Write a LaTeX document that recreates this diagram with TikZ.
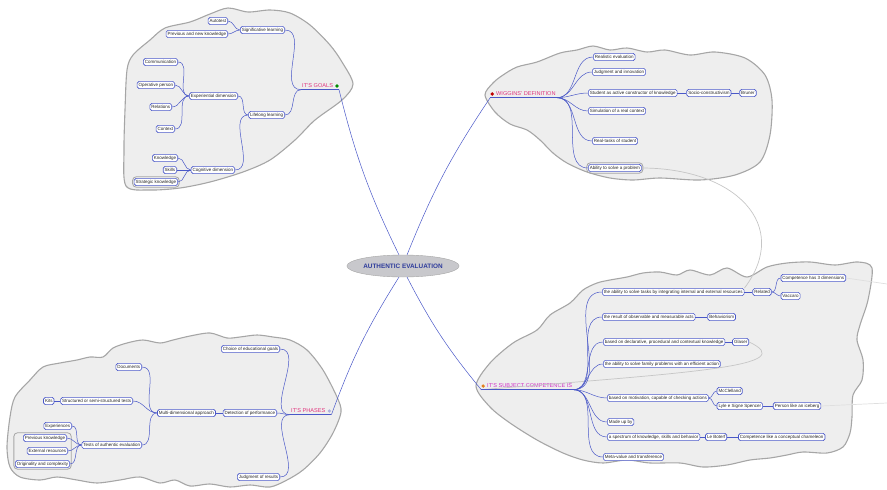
\documentclass[tikz,border=0pt]{standalone}
\usepackage{fontspec}
\setmainfont{Liberation Sans}
\usetikzlibrary{positioning, fit, shapes.geometric}

\definecolor{mmblue}{HTML}{4A58C8}
\definecolor{topicpink}{HTML}{E0327C}
\definecolor{compmag}{HTML}{D02EC4}
\definecolor{cloudfill}{HTML}{EEEEEE}
\definecolor{cloudline}{HTML}{A6A6A6}
\definecolor{centerfill}{HTML}{C8C8CC}
\definecolor{centertext}{HTML}{2E3C9C}

\begin{document}
\begin{tikzpicture}[x=1pt, y=-1pt,
  idea/.style={draw=mmblue, fill=white, rounded corners=1.8pt, line width=0.65pt,
    font=\fontsize{4.5}{5}\selectfont, text=black!85, inner xsep=1.5pt, inner ysep=1.5pt,
    text height=3.3pt, text depth=1pt},
  topic/.style={font=\fontsize{5.6}{6}\selectfont, text=topicpink, inner xsep=1pt, inner ysep=1.5pt},
  icon/.style={circle, inner sep=0pt, minimum size=3.6pt},
  link/.style={draw=mmblue, line width=0.5pt},
  cloudy/.style={draw=cloudline, fill=cloudfill, line width=1.1pt},
  grp/.style={draw=cloudline, rounded corners=3.5pt, line width=0.8pt, inner sep=1.2pt},
  relline/.style={draw=gray!45, line width=0.7pt},
  fadeline/.style={draw=gray!25, line width=0.7pt}]

  \useasboundingbox (0,0) rectangle (887,490);

  % clouds behind the four branches
  \draw[cloudy] plot[smooth cycle] coordinates {(126,186) (124,150) (125,110) (127,70)
    (133,55) (150,40) (165,28) (190,22) (210,14) (228,8) (248,12) (270,10) (290,13)
    (310,25) (330,45) (342,62) (353,84) (342,100) (315,120) (295,140) (270,160)
    (243,172) (210,182) (180,188) (150,190)};
  \draw[cloudy] plot[smooth cycle] coordinates {(485,95) (493,83) (503,75) (517,67)
    (537,62) (560,53) (577,50) (593,46) (610,50) (627,48) (647,52) (665,50) (690,55)
    (715,52) (745,58) (765,75) (772,100) (770,135) (760,162) (735,175) (700,180)
    (660,178) (633,180) (610,178) (587,172) (567,163) (553,153) (540,140) (527,130)
    (510,124) (495,112)};
  \draw[cloudy] plot[smooth cycle] coordinates {(476,386) (490,363) (513,343) (537,330)
    (550,315) (570,303) (583,290) (597,283) (610,280) (627,277) (643,273) (660,272)
    (677,275) (690,270) (710,275) (727,268) (747,277) (767,267) (787,263) (810,262)
    (835,265) (858,262) (872,268) (868,300) (860,325) (857,340) (863,360) (862,380)
    (853,395) (852,417) (850,433) (843,447) (827,453) (803,452) (787,455) (770,458)
    (750,460) (727,465) (703,467) (680,463) (650,463) (627,460) (603,463) (583,460)
    (563,453) (537,440) (510,423) (490,407)};
  \draw[cloudy] plot[smooth cycle] coordinates {(10,417) (15,397) (30,380) (43,367)
    (60,363) (77,360) (90,357) (103,357) (113,348) (127,343) (143,340) (160,343)
    (173,340) (190,336) (210,333) (227,338) (240,337) (257,335) (273,337) (290,340)
    (307,350) (323,370) (337,397) (341,412) (333,433) (320,453) (303,470) (287,480)
    (270,487) (250,485) (230,487) (210,484) (190,486) (175,480) (160,483) (140,477)
    (120,480) (97,483) (77,480) (57,477) (40,480) (20,477) (10,467) (7,447)};

  % centre
  \node[ellipse, draw=gray!70, fill=centerfill, minimum width=102pt, minimum height=22pt,
    font=\bfseries\fontsize{6.4}{7}\selectfont, text=centertext, inner sep=0pt]
    (auth) at (403,266) {AUTHENTIC EVALUATION};

  % IT'S GOALS
  \node[topic, anchor=west] (goals) at (301,86) {IT'S GOALS};
  \node[icon, fill=green!55!black, right=0.8pt of goals] (goalsicon) {};
  \coordinate (goalsend) at (goals.south west -| goalsicon.east);
  \node[idea, anchor=east] (signif) at (285,30) {Significative learning};
  \node[idea, anchor=east] (autotest) at (228,21) {Autotest};
  \node[idea, anchor=east] (prevnew) at (228,34) {Previous and new knowledge};
  \node[idea, anchor=east] (lifelong) at (285,115) {Lifelong learning};
  \node[idea, anchor=east] (exper) at (238,96) {Experiential dimension};
  \node[idea, anchor=east] (commun) at (178,62) {Communication};
  \node[idea, anchor=east] (operat) at (175,85) {Operative person};
  \node[idea, anchor=east] (relat) at (172,107) {Relations};
  \node[idea, anchor=east] (context) at (175,129) {Context};
  \node[idea, anchor=east] (cognit) at (235,170) {Cognitive dimension};
  \node[idea, anchor=east] (knowl) at (178,158) {Knowledge};
  \node[idea, anchor=east] (skills) at (177,170) {Skills};
  \node[idea, anchor=east] (strat) at (178,182) {Strategic knowledge};
  \node[grp, fit=(strat)] (stratgrp) {};

  % WIGGINS' DEFINITION
  \node[topic, anchor=west] (wiggins) at (495,94) {WIGGINS' DEFINITION};
  \node[icon, fill=red!75!black, left=0.8pt of wiggins] (wigicon) {};
  \coordinate (wigstart) at (wiggins.south east -| wigicon.west);
  \node[idea, anchor=west] (realistic) at (593,57) {Realistic evaluation};
  \node[idea, anchor=west] (judgment) at (592,72) {Judgment and innovation};
  \node[idea, anchor=west] (student) at (588,93) {Student as active constructor of knowledge};
  \node[idea, right=9pt of student] (socio) {Socio-constructivism};
  \node[idea, right=8pt of socio] (bruner) {Bruner};
  \node[idea, anchor=west] (simul) at (588,111) {Simulation of a real context};
  \node[idea, anchor=west] (realtask) at (592,141) {Real-tasks of student};
  \node[idea, anchor=west] (ability) at (588,168) {Ability to solve a problem};
  \node[grp, fit=(ability)] (abilitygrp) {};

  % IT'S PHASES
  \node[topic, anchor=west] (phases) at (290,411) {IT'S PHASES};
  \node[icon, fill=gray!60!blue!45, right=0.8pt of phases] (phicon) {};
  \coordinate (phend) at (phases.south west -| phicon.east);
  \node[idea, anchor=east] (choice) at (280,349) {Choice of educational goals};
  \node[idea, anchor=east] (detect) at (277,413) {Detection of performance};
  \node[idea, anchor=east] (judgres) at (280,477) {Judgment of results};
  \node[idea, left=7pt of detect] (multi) {Multi-dimensional approach};
  \node[idea, anchor=east] (docs) at (142,367) {Documents};
  \node[idea, anchor=east] (struct) at (133,401) {Structured or semi-structured tests};
  \node[idea, left=6pt of struct] (kits) {Kits};
  \node[idea, anchor=east] (tests) at (142,445) {Tests of authentic evaluation};
  \node[idea, anchor=east] (exper2) at (72,426) {Experiences};
  \node[idea, anchor=east] (prevk) at (67,438) {Previous knowledge};
  \node[idea, anchor=east] (extres) at (68,451) {External resources};
  \node[idea, anchor=east] (orig) at (70,464) {Originality and complexity};
  \node[grp, fit=(prevk)(orig)] (origgrp) {};

  % IT'S SUBJECT COMPETENCE IS
  \node[topic, text=compmag, anchor=west] (comp) at (486,386) {IT'S SUBJECT COMPETENCE IS};
  \node[icon, fill=orange!55!brown, left=0.8pt of comp] (compicon) {};
  \coordinate (compstart) at (comp.south east -| compicon.west);
  \node[idea, anchor=west] (tasks) at (602,292)
    {the ability to solve tasks by integrating internal and external resources};
  \node[idea, right=8pt of tasks] (related) {Related};
  \node[idea, right=9pt of related, yshift=14pt] (comp3) {Competence has 3 dimensions};
  \node[idea, right=9pt of related, yshift=-4pt] (vaccaro) {Vaccaro};
  \node[idea, anchor=west] (result) at (602,317) {the result of observable and measurable acts};
  \node[idea, right=12pt of result] (behav) {Behaviorism};
  \node[idea, anchor=west] (declar) at (603,342)
    {based on declarative, procedural and contextual knowledge};
  \node[idea, right=7pt of declar] (glaser) {Glaser};
  \node[idea, anchor=west] (family) at (603,364)
    {the ability to solve family problems with an efficient action};
  \node[idea, anchor=west] (motiv) at (607,398) {based on motivation, capable of checking actions};
  \node[idea, right=8pt of motiv, yshift=7pt] (mcclel) {McClelland};
  \node[idea, right=8pt of motiv, yshift=-8pt] (spencer) {Lyle e Signe Spencer};
  \node[idea, right=10pt of spencer] (iceberg) {Person like an iceberg};
  \node[idea, anchor=west] (madeup) at (607,422) {Made up by};
  \node[idea, anchor=west] (spectrum) at (607,437) {a spectrum of knowledge, skills and behavior};
  \node[idea, right=5pt of spectrum] (boterf) {Le Boterf};
  \node[idea, right=11pt of boterf] (chameleon) {Competence like a conceptual chameleon};
  \node[idea, anchor=west] (metaval) at (603,457) {Meta-value and transference};

  % free ends of the faded lines at the right border
  \coordinate (edgeA) at (887,284);
  \coordinate (edgeB) at (887,403);

  % grey relation arcs
  \draw[relline] (ability.east) .. controls (735,168) and (792,225) .. (tasks.north east);
  \draw[relline] (compstart) .. controls (700,372) and (800,366) .. (glaser.east);
  \draw[fadeline] (comp3.east) -- (edgeA);
  \draw[fadeline] (iceberg.east) -- (edgeB);

  % topic underlines
  \draw[link] (goals.south west) -- (goalsend);
  \draw[link] (wigstart) -- (wiggins.south east);
  \draw[link] (phases.south west) -- (phend);
  \draw[link] (compstart) -- (comp.south east);

  % main branches
  \draw[link] (goalsend) to[bend right=6] (auth.110);
  \draw[link] (wigstart) to[bend right=6] (auth.70);
  \draw[link] (phend) to[bend left=6] (auth.250);
  \draw[link] (compstart) to[bend left=6] (auth.290);

  % goals tree
  \draw[link] (goals.south west) to[out=180,in=0] (signif.east);
  \draw[link] (goals.south west) to[out=180,in=0] (lifelong.east);
  \draw[link] (signif.west) to[out=180,in=0] (autotest.east);
  \draw[link] (signif.west) to[out=180,in=0] (prevnew.east);
  \draw[link] (lifelong.west) to[out=180,in=0] (exper.east);
  \draw[link] (lifelong.west) to[out=180,in=0] (cognit.east);
  \draw[link] (exper.west) to[out=180,in=0] (commun.east);
  \draw[link] (exper.west) to[out=180,in=0] (operat.east);
  \draw[link] (exper.west) to[out=180,in=0] (relat.east);
  \draw[link] (exper.west) to[out=180,in=0] (context.east);
  \draw[link] (cognit.west) to[out=180,in=0] (knowl.east);
  \draw[link] (cognit.west) -- (skills.east);
  \draw[link] (cognit.west) to[out=180,in=0] (strat.east);

  % definition tree
  \draw[link] (wiggins.south east) to[out=0,in=180] (realistic.west);
  \draw[link] (wiggins.south east) to[out=0,in=180] (judgment.west);
  \draw[link] (wiggins.south east) to[out=0,in=180] (student.west);
  \draw[link] (wiggins.south east) to[out=0,in=180] (simul.west);
  \draw[link] (wiggins.south east) to[out=0,in=180] (realtask.west);
  \draw[link] (wiggins.south east) to[out=0,in=180] (ability.west);
  \draw[link] (student.east) -- (socio.west);
  \draw[link] (socio.east) -- (bruner.west);

  % phases tree
  \draw[link] (phases.south west) to[out=180,in=0] (choice.east);
  \draw[link] (phases.south west) to[out=180,in=0] (detect.east);
  \draw[link] (phases.south west) to[out=180,in=0] (judgres.east);
  \draw[link] (detect.west) -- (multi.east);
  \draw[link] (multi.west) to[out=180,in=0] (docs.east);
  \draw[link] (multi.west) to[out=180,in=0] (struct.east);
  \draw[link] (multi.west) to[out=180,in=0] (tests.east);
  \draw[link] (struct.west) -- (kits.east);
  \draw[link] (tests.west) to[out=180,in=0] (exper2.east);
  \draw[link] (tests.west) to[out=180,in=0] (prevk.east);
  \draw[link] (tests.west) to[out=180,in=0] (extres.east);
  \draw[link] (tests.west) to[out=180,in=0] (orig.east);

  % competence tree
  \draw[link] (comp.south east) to[out=0,in=180] (tasks.west);
  \draw[link] (comp.south east) to[out=0,in=180] (result.west);
  \draw[link] (comp.south east) to[out=0,in=180] (declar.west);
  \draw[link] (comp.south east) to[out=0,in=180] (family.west);
  \draw[link] (comp.south east) to[out=0,in=180] (motiv.west);
  \draw[link] (comp.south east) to[out=0,in=180] (madeup.west);
  \draw[link] (comp.south east) to[out=0,in=180] (spectrum.west);
  \draw[link] (comp.south east) to[out=0,in=180] (metaval.west);
  \draw[link] (tasks.east) -- (related.west);
  \draw[link] (related.east) to[out=0,in=180] (comp3.west);
  \draw[link] (related.east) to[out=0,in=180] (vaccaro.west);
  \draw[link] (result.east) -- (behav.west);
  \draw[link] (declar.east) -- (glaser.west);
  \draw[link] (motiv.east) to[out=0,in=180] (mcclel.west);
  \draw[link] (motiv.east) to[out=0,in=180] (spencer.west);
  \draw[link] (spencer.east) -- (iceberg.west);
  \draw[link] (spectrum.east) -- (boterf.west);
  \draw[link] (boterf.east) -- (chameleon.west);
\end{tikzpicture}
\end{document}
